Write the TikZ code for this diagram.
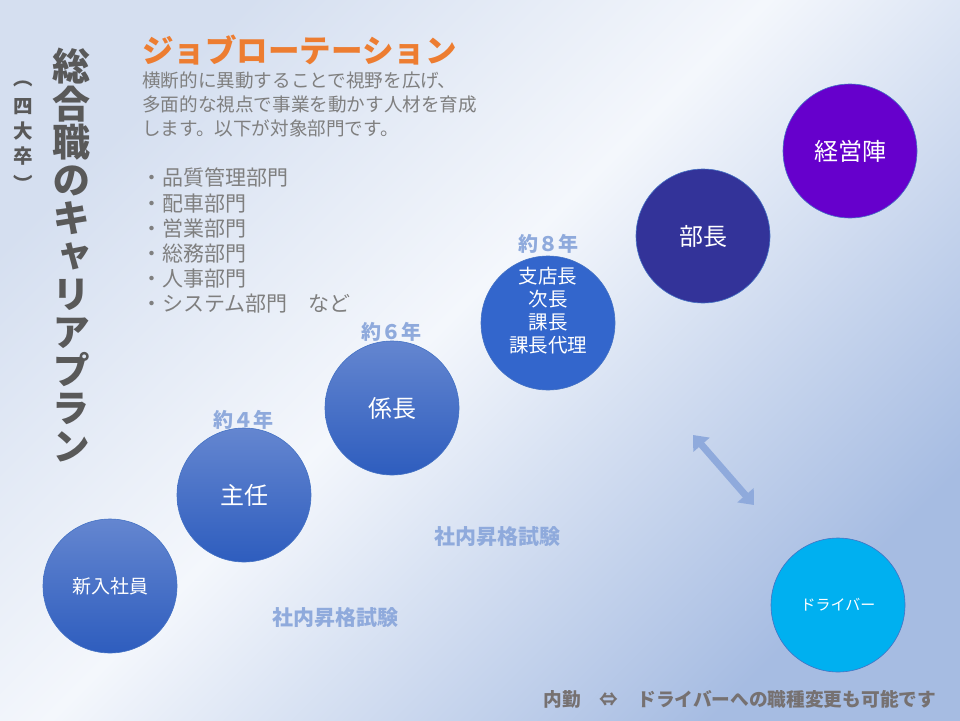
\documentclass[tikz,border=0pt]{standalone}
\usepackage{fontspec}
\setmainfont{Noto Sans CJK JP}
\newfontfamily\vjp{Noto Sans CJK JP}[RawFeature=+vert]
\usetikzlibrary{shapes,arrows.meta}
\usepackage{xcolor}
\definecolor{jorange}{RGB}{237,125,49}
\definecolor{txtgray}{RGB}{127,127,127}
\definecolor{darkgray}{RGB}{89,89,89}
\definecolor{notegray}{RGB}{118,113,113}
\definecolor{yrblue}{RGB}{143,170,220}
\definecolor{stTop}{RGB}{100,134,208}
\definecolor{stBot}{RGB}{46,93,190}
\definecolor{stFlat}{RGB}{51,102,204}
\definecolor{stNavy}{RGB}{51,51,153}
\definecolor{stPurple}{RGB}{102,0,204}
\definecolor{stCyan}{RGB}{0,176,240}
\definecolor{rimblue}{RGB}{68,114,196}
\definecolor{bgTL}{RGB}{213,223,240}
\definecolor{bgMid}{RGB}{244,247,252}
\definecolor{bgBR}{RGB}{166,188,226}
\pgfdeclarehorizontalshading{bgshade}{100bp}{color(0bp)=(bgTL); color(25bp)=(bgTL);
  color(47bp)=(bgMid); color(75bp)=(bgBR); color(100bp)=(bgBR)}

\begin{document}
\begin{tikzpicture}[x=1pt, y=-1pt,
    stage/.style={circle, draw=rimblue, line width=0.6pt, minimum size=134pt, inner sep=0pt, text=white, align=center},
    blue_st/.style={stage, top color=stTop, bottom color=stBot},
    years/.style={font=\bfseries\fontsize{20}{20}\selectfont, text=yrblue},
    exam/.style={font=\bfseries\fontsize{21}{21}\selectfont, text=yrblue},
    swaparrow/.style={{Triangle[width=21pt,length=13pt]}-{Triangle[width=21pt,length=13pt]}, line width=7pt, yrblue}
]

% Background
\useasboundingbox (0,0) rectangle (960,720);
\fill[shading=bgshade, shading angle=-45] (0,0) rectangle (960,720);

% Vertical heading
\node[font=\vjp\bfseries\fontsize{38}{38}\selectfont, text=darkgray, align=center, inner sep=0pt] (plan) at (71,255)
  {総\\合\\職\\の\\キ\\ャ\\リ\\ア\\プ\\ラ\\ン};
\node[font=\vjp\bfseries\fontsize{19.5}{25}\selectfont, text=darkgray, align=center, inner sep=0pt] (grad) at (23,136)
  {（\\[3pt]四\\大\\卒\\[3pt]）};

% Job rotation
\node[anchor=west, inner sep=0pt, font=\bfseries\fontsize{31.5}{31.5}\selectfont, text=jorange] (title) at (142,50) {ジョブローテーション};
\node[anchor=north west, inner sep=0pt, align=left, font=\fontsize{18.6}{24}\selectfont, text=txtgray] (intro) at (142,72)
  {横断的に異動することで視野を広げ、\\多面的な視点で事業を動かす人材を育成\\します。以下が対象部門です。};
\node[anchor=north west, inner sep=0pt, align=left, font=\fontsize{21}{25.2}\selectfont, text=txtgray] (depts) at (141,168)
  {・品質管理部門\\・配車部門\\・営業部門\\・総務部門\\・人事部門\\・システム部門　など};

% Career steps
\node[blue_st, font=\fontsize{19}{19}\selectfont] (newhire) at (110,586) {新入社員};
\node[blue_st, font=\fontsize{24}{24}\selectfont] (chief) at (244,495) {主任};
\node[blue_st, font=\fontsize{24}{24}\selectfont] (subsec) at (392,408) {係長};
\node[stage, fill=stFlat, font=\fontsize{19.5}{22.5}\selectfont] (branch) at (548,323)
  {\raisebox{10pt}[\height][\depth]{\begin{tabular}{@{}c@{}}支店長\\次長\\課長\\課長代理\end{tabular}}};
\node[stage, fill=stNavy, font=\fontsize{24}{24}\selectfont] (gm) at (703,236) {部長};
\node[stage, fill=stPurple, font=\fontsize{24}{24}\selectfont] (exec) at (850,151) {経営陣};
\node[stage, fill=stCyan, font=\fontsize{15}{15}\selectfont] (driver) at (838,605) {ドライバー};

\node[years] (y4) at (243,420) {約４年};
\node[years] (y6) at (391,332) {約６年};
\node[years] (y8) at (548,244) {約８年};
\node[exam] (exam1) at (335,618) {社内昇格試験};
\node[exam] (exam2) at (497,537) {社内昇格試験};

% Switch to driver
\coordinate (swapA) at (693,435);
\coordinate (swapB) at (754,505);
\draw[swaparrow] (swapA) -- (swapB);

\node[font=\bfseries\fontsize{18.7}{18.7}\selectfont, text=notegray] (note) at (740,699) {内勤　⇔　ドライバーへの職種変更も可能です};

\end{tikzpicture}
\end{document}
